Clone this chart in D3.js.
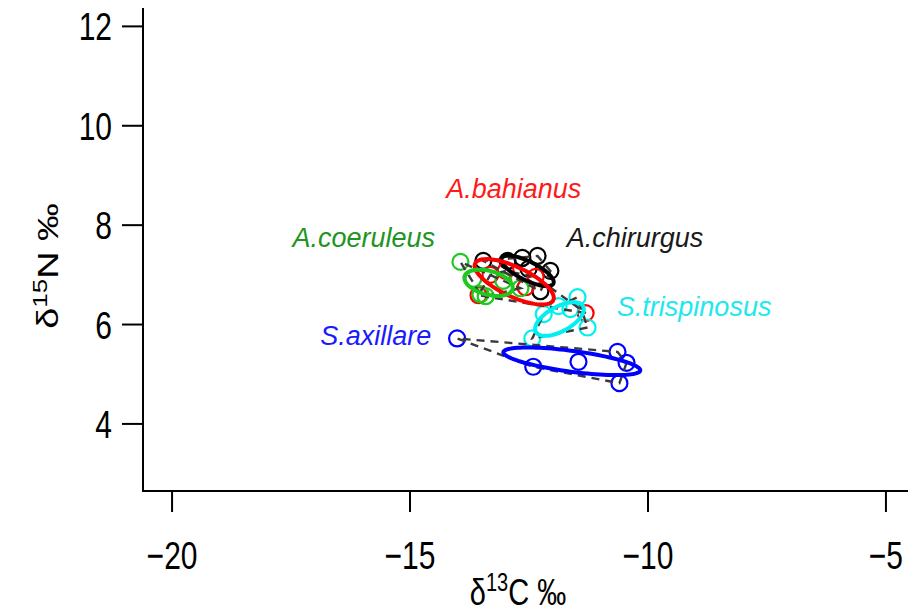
<!DOCTYPE html>
<html>
<head>
<meta charset="utf-8">
<script src="https://cdn.jsdelivr.net/npm/d3@7"></script>
<style>
  body { margin: 0; background: #fff; }
  svg { display: block; font-family: "Liberation Sans", Arial, sans-serif; }
</style>
</head>
<body>
<div id="chart"></div>
<script>
// isotope values per species (d13C, d15N)
const species = ['A.chirurgus', 'A.bahianus', 'A.coeruleus', 'S.trispinosus', 'S.axillare']

const chirurgusC = [-13.45, -12.94, -12.63, -12.31, -12.04, -12.25, -12.50]
const chirurgusN = [7.27, 7.27, 7.33, 7.37, 7.07, 6.66, 7.11]
const bahianusC = [-13.55, -13.30, -12.98, -12.56, -12.35, -11.30]
const bahianusN = [6.58, 6.99, 7.07, 6.74, 6.95, 6.22]
const coeruleusC = [-13.93, -13.66, -13.51, -13.40, -13.03, -12.67]
const coeruleusN = [7.25, 6.91, 6.60, 6.56, 6.87, 6.72]
const trispinosusC = [-11.47, -11.87, -12.18, -11.26, -12.42, -11.62]
const trispinosusN = [6.54, 6.36, 6.20, 5.93, 5.71, 6.30]
const axillareC = [-14.00, -12.40, -11.45, -10.63, -10.44, -10.59]
const axillareN = [5.71, 5.14, 5.24, 5.44, 5.22, 4.81]

// standard ellipses: centre, semi axes (permil), rotation (deg)
const ellCx = [-12.52, -12.80, -13.34, -11.85, -11.59]
const ellCy = [7.07, 6.85, 6.83, 6.10, 5.25]
const ellA = [0.60, 0.90, 0.52, 0.56, 1.45]
const ellB = [0.19, 0.30, 0.24, 0.25, 0.21]
const ellAngle = [-25, -24, -14, 27, -7.3]

// group label anchors
const labelC = [-10.26, -12.81, -15.96, -9.02, -15.71]
const labelN = [7.75, 8.72, 7.75, 6.36, 5.76]

const xTicks = [-20, -15, -10, -5]
const yTicks = [4, 6, 8, 10, 12]

const markColor = ['#000000', '#ff0000', '#1ec81e', '#00f0f0', '#0000ff']
const textColor = ['#1a1a1a', '#ff1a1a', '#1f951f', '#1ee8ee', '#1a1aff']

const groups = [
    [chirurgusC, chirurgusN],
    [bahianusC, bahianusN],
    [coeruleusC, coeruleusN],
    [trispinosusC, trispinosusN],
    [axillareC, axillareN],
].map(([c, n], i) => ({
    name: species[i],
    color: markColor[i],
    pts: c.map((v, j) => [v, n[j]])
}))

const width = 908, height = 614
const margin = {left: 143, top: 8, bottom: 491}
const stretch = 1.3 // axis text in the original is drawn tall and narrow

const svg = d3.select('#chart').append('svg')
    .attr('width', width)
    .attr('height', height)

const x = d3.scaleLinear().domain([-20.6, -4.4]).range([margin.left, 914])
const y = d3.scaleLinear().domain([2.64, 12.36]).range([margin.bottom, margin.top])

// axes
const yAxis = svg.append('g')
    .attr('transform', `translate(${margin.left},0)`)
    .call(d3.axisLeft(y).tickValues(yTicks).tickSize(21).tickFormat(d3.format('d')))
const xAxis = svg.append('g')
    .attr('transform', `translate(0,${margin.bottom})`)
    .call(d3.axisBottom(x).tickValues(xTicks).tickSize(21)
        .tickFormat(d => d < 0 ? '\u2212' + Math.abs(d) : d))
;[yAxis, xAxis].forEach(a => {
    a.select('.domain').remove()
    a.selectAll('line').attr('stroke', '#000').attr('stroke-width', 2)
    a.selectAll('text')
        .attr('fill', '#000')
        .attr('x', 0).attr('y', 0)
        .attr('dy', '0.36em')
        .style('font-size', '30px')
        .style('font-family', '"Liberation Sans", Arial, sans-serif')
})
yAxis.selectAll('text').attr('transform', `translate(-31,0) scale(1,${stretch})`)
xAxis.selectAll('text').attr('transform', `translate(0,64) scale(1,${stretch})`)

svg.append('path')
    .attr('d', `M${margin.left},${margin.top}V${margin.bottom}H${width}`)
    .attr('fill', 'none')
    .attr('stroke', '#000')
    .attr('stroke-width', 2)

// axis titles
const xTitle = svg.append('text')
    .attr('transform', `translate(518,605) scale(1,${stretch})`)
    .attr('text-anchor', 'middle')
    .style('font-size', '29px')
xTitle.append('tspan').text('\u03b4')
xTitle.append('tspan').text('13').style('font-size', '20px').attr('dy', -11)
xTitle.append('tspan').text('C \u2030').attr('dy', 11)

const yTitle = svg.append('text')
    .attr('transform', `translate(58,266) rotate(-90) scale(${stretch},1)`)
    .attr('text-anchor', 'middle')
    .style('font-size', '29px')
yTitle.append('tspan').text('\u03b4')
yTitle.append('tspan').text('15').style('font-size', '20px').attr('dy', -11)
yTitle.append('tspan').text('N \u2030').attr('dy', 11)

// points
groups.forEach(g => {
    svg.append('g').selectAll('circle')
        .data(g.pts)
        .join('circle')
        .attr('cx', d => x(d[0]))
        .attr('cy', d => y(d[1]))
        .attr('r', 8)
        .attr('fill', 'none')
        .attr('stroke', g.color)
        .attr('stroke-width', 2.2)
})

// convex hulls
groups.forEach(g => {
    const hull = d3.polygonHull(g.pts)
    svg.append('path')
        .attr('d', d3.line().x(d => x(d[0])).y(d => y(d[1])).curve(d3.curveLinearClosed)(hull))
        .attr('fill', 'none')
        .attr('stroke', '#3a3a3a')
        .attr('stroke-width', 2.4)
        .attr('stroke-dasharray', '8,6')
})

// ellipses
groups.forEach((g, i) => {
    const th = ellAngle[i] * Math.PI / 180
    const pts = d3.range(0, 100).map(k => {
        const t = k / 100 * 2 * Math.PI
        const u = ellA[i] * Math.cos(t), v = ellB[i] * Math.sin(t)
        return [ellCx[i] + u * Math.cos(th) - v * Math.sin(th),
                ellCy[i] + u * Math.sin(th) + v * Math.cos(th)]
    })
    svg.append('path')
        .attr('d', d3.line().x(d => x(d[0])).y(d => y(d[1])).curve(d3.curveLinearClosed)(pts))
        .attr('fill', 'none')
        .attr('stroke', g.color)
        .attr('stroke-width', 4)
})

// group labels
species.forEach((s, i) => {
    svg.append('text')
        .attr('x', x(labelC[i]))
        .attr('y', y(labelN[i]))
        .attr('dy', '0.35em')
        .attr('text-anchor', 'middle')
        .attr('fill', textColor[i])
        .style('font-size', '27px')
        .style('font-style', 'italic')
        .text(s)
})
</script>
</body>
</html>
